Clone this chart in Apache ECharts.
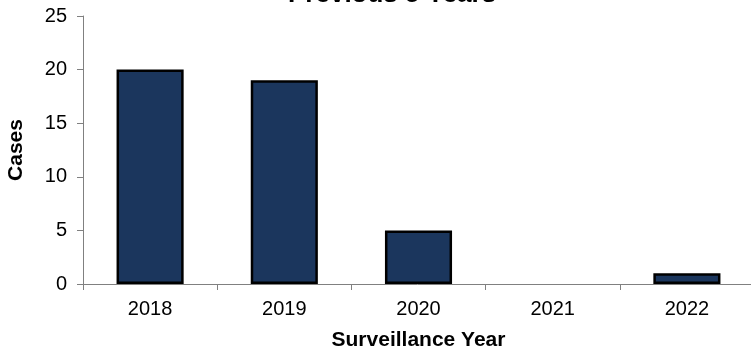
<!DOCTYPE html>
<html><head><meta charset="utf-8">
<script src="https://cdn.jsdelivr.net/npm/echarts@6/dist/echarts.min.js"></script>
<style>html,body{margin:0;padding:0;background:#fff}#c{width:751px;height:354px}</style>
</head><body><div id="c"></div>
<script>
const categories = ['2018','2019','2020','2021','2022'];
const cases = [20, 19, 5, 0, 1];
const yTicks = [0, 5, 10, 15, 20, 25];
const titleText = 'Previous 5 Years';

const chart = echarts.init(document.getElementById('c'), null, {renderer:'canvas'});
const font = 'Arial, "Liberation Sans", sans-serif';
chart.setOption({
  animation: false,
  title: {
    text: titleText, left: 288, top: -18, padding: 0,
    textStyle: {fontFamily: font, fontSize: 26, fontWeight: 'bold', color: '#000'}
  },
  grid: {left: 83, top: 16, width: 671, height: 268, containLabel: false, outerBoundsMode: 'none'},
  xAxis: {
    type: 'category', data: categories,
    name: 'Surveillance Year', nameLocation: 'middle', nameGap: 46,
    nameTextStyle: {fontFamily: font, fontSize: 21, fontWeight: 'bold', color: '#000'},
    axisLine: {lineStyle: {color: '#808080', width: 1}},
    axisTick: {show: true, alignWithLabel: false, length: 6, lineStyle: {color: '#808080'}},
    axisLabel: {fontFamily: font, fontSize: 20, color: '#000', margin: 15},
    splitLine: {show: false}
  },
  yAxis: {
    type: 'value', min: yTicks[0], max: yTicks[yTicks.length-1], interval: 5,
    name: 'Cases', nameLocation: 'middle', nameGap: 56, nameRotate: 90,
    nameTextStyle: {fontFamily: font, fontSize: 21, fontWeight: 'bold', color: '#000'},
    axisLine: {show: true, lineStyle: {color: '#808080', width: 1}},
    axisTick: {show: true, length: 6, lineStyle: {color: '#808080'}},
    axisLabel: {fontFamily: font, fontSize: 20, color: '#000', margin: 16},
    splitLine: {show: false}
  },
  series: [{
    type: 'bar', barWidth: '50%',
    data: cases.map(v => v === 0 ? {value: v, itemStyle: {borderWidth: 0}} : v),
    itemStyle: {color: '#1b365d', borderColor: '#000', borderWidth: 2.5}
  }]
});
</script></body></html>
